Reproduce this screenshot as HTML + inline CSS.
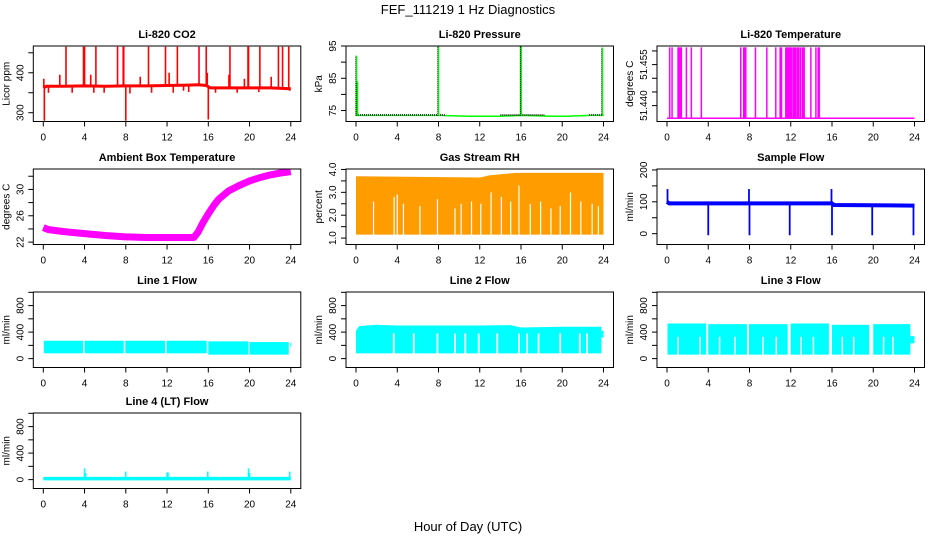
<!DOCTYPE html>
<html><head><meta charset="utf-8"><style>
html,body{margin:0;padding:0;background:#fff;}
svg{display:block;font-family:"Liberation Sans",sans-serif;}
</style></head><body>
<svg id="c" width="936" height="540" viewBox="0 0 936 540" xmlns="http://www.w3.org/2000/svg">
<text x="468" y="14" text-anchor="middle" font-size="13">FEF_111219  1 Hz Diagnostics</text>
<text x="468" y="531" text-anchor="middle" font-size="13">Hour of Day (UTC)</text>
</svg>
<script>
// ---- data ----
const xTicks = [0,4,8,12,16,20,24];
const co2BaseHours = [0,0.3,2,4,6,8,10,12,14,15,15.8,16.2,18,20,22,24];
const co2BaseVals = [362,366,366,367,366,367,367,368,369,370,368,362,362,362,362,360];
const co2SpikeHours = [0.05,2.2,3.9,4.0,5.1,7.2,7.75,7.8,10.2,11.85,13.0,15.1,15.8,18.1,19.85,19.9,21.0,22.8,23.2,23.8,1.6,4.6,9.4,12.2,15.9,18.0,19.5,22.1,0.1,8.0,16.0,0.5,2.8,4.9,5.9,8.4,10.5,12.6,13.6,14.1,16.7,18.8,20.9,23.9];
const co2SpikeVals = [385,465,465,465,465,465,465,465,465,465,465,465,465,465,465,465,465,465,465,465,395,395,390,400,400,395,385,390,280,280,283,350,350,350,350,348,350,350,355,352,350,350,352,355];
const presBaseHours = [0,8,11,14,16,19,20.5,22.6,24];
const presBaseVals = [73.5,73.5,73.2,73.2,73.5,73.2,73.2,73.5,73.5];
const presSpikeHours = [0.05,0.15,8.0,16.0,16.03,23.9];
const presSpikeVals = [92,84,95,95,95,94.5];
const presDotStarts = [0,14,22.6];
const presDotEnds = [8.7,18.3,24];
const tempBase = 51.4354;
const tempSpikeTop = 51.4613;
const tempSpikeHours = [0.26,0.49,1.07,1.15,1.22,1.3,1.39,1.88,2.36,3.33,7.15,7.44,7.52,7.6,7.64,8.58,9.68,10.55,10.97,11.04,11.1,11.52,11.6,11.68,11.76,11.84,11.92,12.0,12.07,12.23,12.3,12.38,12.46,12.62,12.7,12.78,12.95,13.14,13.22,13.3,13.95,14.44,14.66,14.76];
const ambHours = [0,0.5,2,4,6,8,10,12,14,14.6,15,15.5,16,16.5,17,18,19,20,21,22,23,24];
const ambVals = [24.2,23.9,23.6,23.3,23.0,22.8,22.7,22.7,22.7,22.7,23.5,25,26.3,27.5,28.5,29.8,30.6,31.3,31.8,32.2,32.5,32.7];
const rhTopHours = [0,12,13,15.5,24];
const rhTopVals = [3.7,3.65,3.75,3.85,3.85];
const rhBottom = 1.15;
const rhGapHours = [1.7,3.7,4.0,4.6,6.2,7.9,9.6,10.2,11.2,12.1,13.1,14.1,15.0,15.8,16.9,17.9,18.9,19.8,20.8,21.8,22.9,23.5];
const rhGapTops = [2.6,2.8,2.9,2.5,2.4,2.7,2.3,2.5,2.6,2.5,3.0,2.8,2.6,3.3,2.5,2.6,2.3,2.4,3.0,2.6,2.5,2.4];
const sfBaseHours = [0,0.2,16,16.2,24];
const sfBaseVals = [100,95,95,90,88];
const sfSpikeHours = [0.05,4.0,7.95,8.0,11.9,15.95,16.0,19.9,23.9];
const sfSpikeVals = [140,-5,140,-5,-5,140,-5,-5,-5];
const l1Starts = [0.05,4.0,7.95,11.95,16.0,20.0,23.95];
const l1Ends = [3.85,7.8,11.8,15.85,19.9,23.8,24.0];
const l1Tops = [270,270,270,270,260,250,240];
const l1Bottoms = [80,80,80,80,60,60,180];
const l2TopHours = [0,0.3,2,4,8,12,15,16,20,23.8];
const l2TopVals = [420,490,510,500,500,500,505,470,480,480];
const l2Bottom = 80;
const l2GapHours = [3.66,5.6,7.9,9.6,10.6,11.9,13.7,15.8,16.6,17.7,19.8,21.7,22.4];
const l2GapTop = 380;
const l3Starts = [0.05,4.0,7.95,12.0,16.0,20.0,23.6];
const l3Ends = [3.8,7.75,11.7,15.7,19.6,23.6,24.0];
const l3Tops = [530,520,520,530,510,520,340];
const l3Bottoms = [60,60,60,60,60,60,230];
const l3GapHours = [1.07,3.2,5.1,6.6,9.3,10.6,13.0,14.2,17.0,18.1,21.0,21.9];
const l3GapTop = 330;
const l4Base = 15;
const l4SpikeHours = [4.0,4.1,8.0,12.0,12.1,15.95,19.9,20.0,23.9];
const l4SpikeVals = [170,100,120,110,110,120,170,100,120];

// ---- layout ----
const svg = document.getElementById('c');
const NS = 'http://www.w3.org/2000/svg';
const colL = [33.3,346,657], W = 267.5, rowT = [46,169,292,413], H = 75.5;
function mk(tag, a, parent){const e=document.createElementNS(NS,tag);for(const k in a)e.setAttribute(k,a[k]);(parent||svg).appendChild(e);return e;}
function panel(col,row,ymin,ymax,ticks,labels,ylab,title,name){
  const p={l:colL[col],t:rowT[row],ymin,ymax};
  p.X=h=>p.l+10+h*(W-20)/24;
  p.Y=v=>p.t+H-(v-ymin)/(ymax-ymin)*H;
  const g=mk('g',{});
  
  
  p.g=g;
  const clip=mk('clipPath',{id:'cl'+name},g);
  mk('rect',{x:p.l,y:p.t,width:W,height:H},clip);
  p.d=mk('g',{'clip-path':'url(#cl'+name+')'},g);
  
  
  const box=mk('rect',{x:p.l,y:p.t,width:W,height:H,fill:'none',stroke:'#000','stroke-width':1},g);
  
  
  const tt=mk('text',{x:p.l+W/2,y:p.t-8,'text-anchor':'middle','font-size':11,'font-weight':'bold'},g);
  tt.textContent=title;
  
  
  const b=p.t+H;
  const xa=mk('g',{},g);
  
  
  xTicks.forEach(h=>{const x=p.X(h);mk('line',{x1:x,x2:x,y1:b,y2:b+5,stroke:'#000'},xa);
    const t=mk('text',{x:x,y:b+19,'text-anchor':'middle','font-size':10},xa);t.textContent=h;});
  const ya=mk('g',{},g);
  
  
  ticks.forEach((v,i)=>{const y=p.Y(v);mk('line',{x1:p.l-5,x2:p.l,y1:y,y2:y,stroke:'#000'},ya);
    if(labels[i]!==''){const t=mk('text',{x:p.l-10,y:y,'text-anchor':'middle','font-size':10,transform:`rotate(-90 ${p.l-10} ${y})`},ya);t.textContent=labels[i];}});
  const yl=mk('text',{x:p.l-24,y:p.t+H/2,'text-anchor':'middle','font-size':10,transform:`rotate(-90 ${p.l-24} ${p.t+H/2})`},g);
  yl.textContent=ylab;
  
  
  return p;
}
function line(p,hs,vs,color,w,extra){const pts=hs.map((h,i)=>p.X(h).toFixed(1)+','+p.Y(vs[i]).toFixed(1)).join(' ');
  const e=mk('polyline',Object.assign({points:pts,fill:'none',stroke:color,'stroke-width':w},extra||{}),p.d);return e;}
function interp(hs,vs,h){for(let i=1;i<hs.length;i++){if(h<=hs[i]){const f=(h-hs[i-1])/(hs[i]-hs[i-1]);return vs[i-1]+f*(vs[i]-vs[i-1]);}}return vs[vs.length-1];}
function vline(p,h,v0,v1,color,w){return mk('line',{x1:p.X(h),x2:p.X(h),y1:p.Y(v0),y2:p.Y(v1),stroke:color,'stroke-width':w},p.d);}
function rectV(p,h0,h1,v0,v1,fill){return mk('rect',{x:p.X(h0),y:p.Y(v1),width:Math.max(1,p.X(h1)-p.X(h0)),height:p.Y(v0)-p.Y(v1),fill},p.d);}

// CO2
let p=panel(0,0,278,467,[300,350,400,450],['300','','400',''],'Licor ppm','Li-820 CO2','co2-panel');
let e=line(p,co2BaseHours,co2BaseVals,'#ff0000',3);


co2SpikeHours.forEach((h,i)=>{const s=vline(p,h,interp(co2BaseHours,co2BaseVals,h),co2SpikeVals[i],'#ff0000',1.6);
  
  });

// Pressure
p=panel(1,0,71.6,95,[75,80,85,90,95],['75','','85','','95'],'kPa','Li-820 Pressure','pressure-panel');
e=line(p,presBaseHours,presBaseVals,'#00ff00',1.5);


presDotStarts.forEach((s,i)=>{const d=mk('line',{x1:p.X(s),x2:p.X(presDotEnds[i]),y1:p.Y(73.6),y2:p.Y(73.6),stroke:'#000','stroke-width':1.5,'stroke-dasharray':'1,1'},p.d);
  
  });
presSpikeHours.forEach((h,i)=>{const s=vline(p,h,73.4,presSpikeVals[i],'#00ff00',1.5);
  
  
  const k=mk('line',{x1:p.X(h)-0.8,x2:p.X(h)-0.8,y1:p.Y(73.4),y2:p.Y(presSpikeVals[i]),stroke:'#000','stroke-width':0.8,'stroke-dasharray':'1,1'},p.d);
  
  });

// Temperature
p=panel(2,0,51.4342,51.4618,[51.440,51.445,51.450,51.455,51.460],['51.440','','','51.455',''],'degrees C','Li-820 Temperature','temperature-panel');
e=mk('line',{x1:p.X(0),x2:p.X(24),y1:p.Y(tempBase),y2:p.Y(tempBase),stroke:'#ff00ff','stroke-width':1.5},p.d);


tempSpikeHours.forEach(h=>{const s=vline(p,h,tempBase,tempSpikeTop,'#ff00ff',1.5);
  
  });

// Ambient
p=panel(0,1,21.64,33.1,[22,24,26,28,30,32],['22','','26','','30',''],'degrees C','Ambient Box Temperature','ambient-panel');
e=line(p,ambHours,ambVals,'#ff00ff',7,{'stroke-linejoin':'round'});



// RH
p=panel(1,1,0.72,4.02,[1,1.5,2,2.5,3,3.5,4],['1.0','','2.0','','3.0','','4.0'],'percent','Gas Stream RH','rh-panel');
{const hs=rhTopHours, top=hs.map((h,i)=>p.X(h).toFixed(1)+','+p.Y(rhTopVals[i]).toFixed(1));
 const pts=top.concat([p.X(24).toFixed(1)+','+p.Y(rhBottom),p.X(0).toFixed(1)+','+p.Y(rhBottom)]).join(' ');
 e=mk('polygon',{points:pts,fill:'#ff9c00'},p.d);
 
 }
rhGapHours.forEach((h,i)=>{const s=vline(p,h,rhBottom-0.05,rhGapTops[i],'#ffffff',1.2);
  
  });

// Sample flow
p=panel(2,1,-34,203,[0,50,100,150,200],['0','','100','','200'],'ml/min','Sample Flow','sample-flow-panel');
e=line(p,sfBaseHours,sfBaseVals,'#0000ff',4);


sfSpikeHours.forEach((h,i)=>{const s=vline(p,h,interp(sfBaseHours,sfBaseVals,h),sfSpikeVals[i],'#0000ff',1.8);
  
  });

const flowTicks=[0,200,400,600,800,1000], flowLabels=['0','','400','','800',''];
// Line 1
p=panel(0,2,-134,1005,flowTicks,flowLabels,'ml/min','Line 1 Flow','line1-panel');
l1Starts.forEach((s,i)=>{const r=rectV(p,s,l1Ends[i],l1Bottoms[i],l1Tops[i],'#00ffff');
  
  });
// Line 2
p=panel(1,2,-134,1005,flowTicks,flowLabels,'ml/min','Line 2 Flow','line2-panel');
{const top=l2TopHours.map((h,i)=>p.X(h).toFixed(1)+','+p.Y(l2TopVals[i]).toFixed(1));
 const pts=top.concat([p.X(23.8).toFixed(1)+','+p.Y(l2Bottom),p.X(0).toFixed(1)+','+p.Y(l2Bottom)]).join(' ');
 e=mk('polygon',{points:pts,fill:'#00ffff'},p.d);
 
 
 e=rectV(p,23.8,24,320,420,'#00ffff');
 
 }
l2GapHours.forEach(h=>{const s=vline(p,h,l2Bottom-5,l2GapTop,'#ffffff',1.8);
  
  });
// Line 3
p=panel(2,2,-134,1005,flowTicks,flowLabels,'ml/min','Line 3 Flow','line3-panel');
l3Starts.forEach((s,i)=>{const r=rectV(p,s,l3Ends[i],l3Bottoms[i],l3Tops[i],'#00ffff');
  
  });
l3GapHours.forEach(h=>{const s=vline(p,h,55,l3GapTop,'#ffffff',1.5);
  
  });
// Line 4
p=panel(0,3,-134,1005,flowTicks,flowLabels,'ml/min','Line 4 (LT) Flow','line4-panel');
e=mk('line',{x1:p.X(0),x2:p.X(24),y1:p.Y(l4Base),y2:p.Y(l4Base),stroke:'#00ffff','stroke-width':3.5},p.d);


l4SpikeHours.forEach((h,i)=>{const s=vline(p,h,l4Base,l4SpikeVals[i],'#00ffff',1.5);
  
  });
</script>
</body></html>
